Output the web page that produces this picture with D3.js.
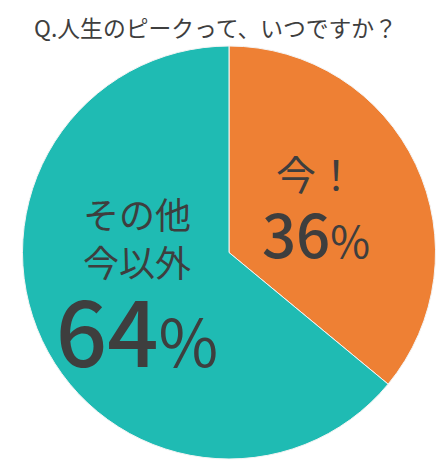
<!DOCTYPE html>
<html><head><meta charset="utf-8">
<script src="https://cdn.jsdelivr.net/npm/d3@7"></script>
<style>body{margin:0;background:#fff}svg{display:block}</style>
</head><body>
<script>
const title = "Q.人生のピークって、いつですか？";
const categories = ["今！", "その他今以外"];
const labelLines = [["今！"], ["その他", "今以外"]];
const values = [36, 64];
const colors = ["#ee8034", "#1fbbb3"];

const W = 446, H = 474;
const svg = d3.select("body").append("svg").attr("width", W).attr("height", H);
const font = "'Noto Sans CJK JP','Noto Sans',sans-serif";
const ink = "#3e3e3e";

svg.append("text").attr("x", 215.5).attr("y", 37).attr("text-anchor", "middle")
  .attr("font-family", font).attr("font-size", 22.8).attr("fill", ink).text(title);

const cx = 229, cy = 252.5, r = 206.5;
const g = svg.append("g").attr("transform", `translate(${cx},${cy})`);
const pie = d3.pie().sort(null).value(d => d);
const arc = d3.arc().innerRadius(0).outerRadius(r);
g.selectAll("path").data(pie(values)).join("path")
  .attr("d", arc).attr("fill", (d, i) => colors[i])
  .attr("stroke", "#f4f4f4").attr("stroke-width", 1);

function label(x, lines, lineSize, lineYs, pct, pctY, pctSize) {
  const t = svg.append("text").attr("font-family", font).attr("fill", ink).attr("text-anchor", "middle");
  lines.forEach((l, i) => t.append("tspan").attr("x", x).attr("y", lineYs[i]).attr("font-size", lineSize).text(l));
  t.append("tspan").attr("x", x).attr("y", pctY).attr("font-size", pctSize).attr("font-weight", 500).text(pct);
  t.append("tspan").attr("font-size", pctSize * 0.72).attr("font-weight", 400).text("%");
}
label(316, labelLines[0], 40, [190], values[0], 258, 60);
label(137, labelLines[1], 36, [229, 277], values[1], 367, 90);
</script>
</body></html>
